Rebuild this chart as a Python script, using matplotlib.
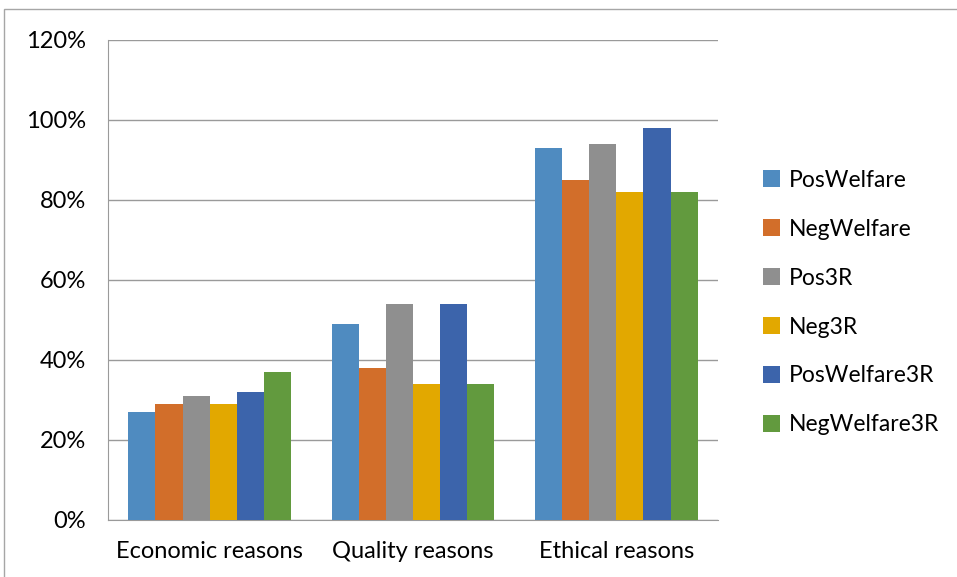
import matplotlib.pyplot as plt
import numpy as np
from matplotlib.patches import Rectangle

categories = ["Economic reasons", "Quality reasons", "Ethical reasons"]
series_names = ["PosWelfare", "NegWelfare", "Pos3R", "Neg3R", "PosWelfare3R", "NegWelfare3R"]
pos_welfare = [27, 49, 93]
neg_welfare = [29, 38, 85]
pos_3r = [31, 54, 94]
neg_3r = [29, 34, 82]
pos_welfare_3r = [32, 54, 98]
neg_welfare_3r = [37, 34, 82]
y_ticks = [0, 20, 40, 60, 80, 100, 120]

series = [pos_welfare, neg_welfare, pos_3r, neg_3r, pos_welfare_3r, neg_welfare_3r]
colors = ["#4F8BC0", "#D26E2A", "#8F8F8F", "#E2A800", "#3C64AB", "#629A3E"]

plt.rcParams['font.family'] = ['Lato', 'DejaVu Sans']

W, H = 957, 577
fig = plt.figure(figsize=(W / 100, H / 100), dpi=100)

# outer chart border (only left and top edges visible)
fig.patches.append(Rectangle((4 / W, -0.1), 1.2, (H - 9) / H + 0.1, transform=fig.transFigure,
                             fill=False, edgecolor="#A6A6A6", linewidth=1.0))

left, right, top, bottom = 108, 718, 40, 520
ax = fig.add_axes([left / W, 1 - bottom / H, (right - left) / W, (bottom - top) / H])

n = len(series)
bar_w = 0.8 / n
x = np.arange(len(categories))
for i, (vals, name, c) in enumerate(zip(series, series_names, colors)):
    offs = (i - (n - 1) / 2) * bar_w
    ax.bar(x + offs, vals, width=bar_w, color=c, label=name, zorder=3, linewidth=0)

fs = 17
ax.set_xlim(-0.5, len(categories) - 0.5)
ax.set_ylim(0, 120)
ax.set_yticks(y_ticks)
ax.set_yticklabels([f"{t}%" for t in y_ticks], fontsize=fs)
ax.set_xticks(x)
ax.set_xticklabels(categories, fontsize=fs)
ax.tick_params(axis='both', length=0, colors="#000000")
ax.tick_params(axis='y', pad=16)
ax.tick_params(axis='x', pad=15)
ax.grid(axis='y', color="#9A9A9A", linewidth=1.0, zorder=0)

for s in ["top", "right"]:
    ax.spines[s].set_visible(False)
ax.spines["left"].set_color("#9A9A9A")
ax.spines["bottom"].set_color("#9A9A9A")

leg = fig.legend(loc="upper left", bbox_to_anchor=(742 / W, 1 - 149 / H), frameon=False,
                 fontsize=16.5, handlelength=0.75, handleheight=0.75, handletextpad=0.4,
                 labelspacing=1.22)

fig.savefig("out.png", dpi=100)
